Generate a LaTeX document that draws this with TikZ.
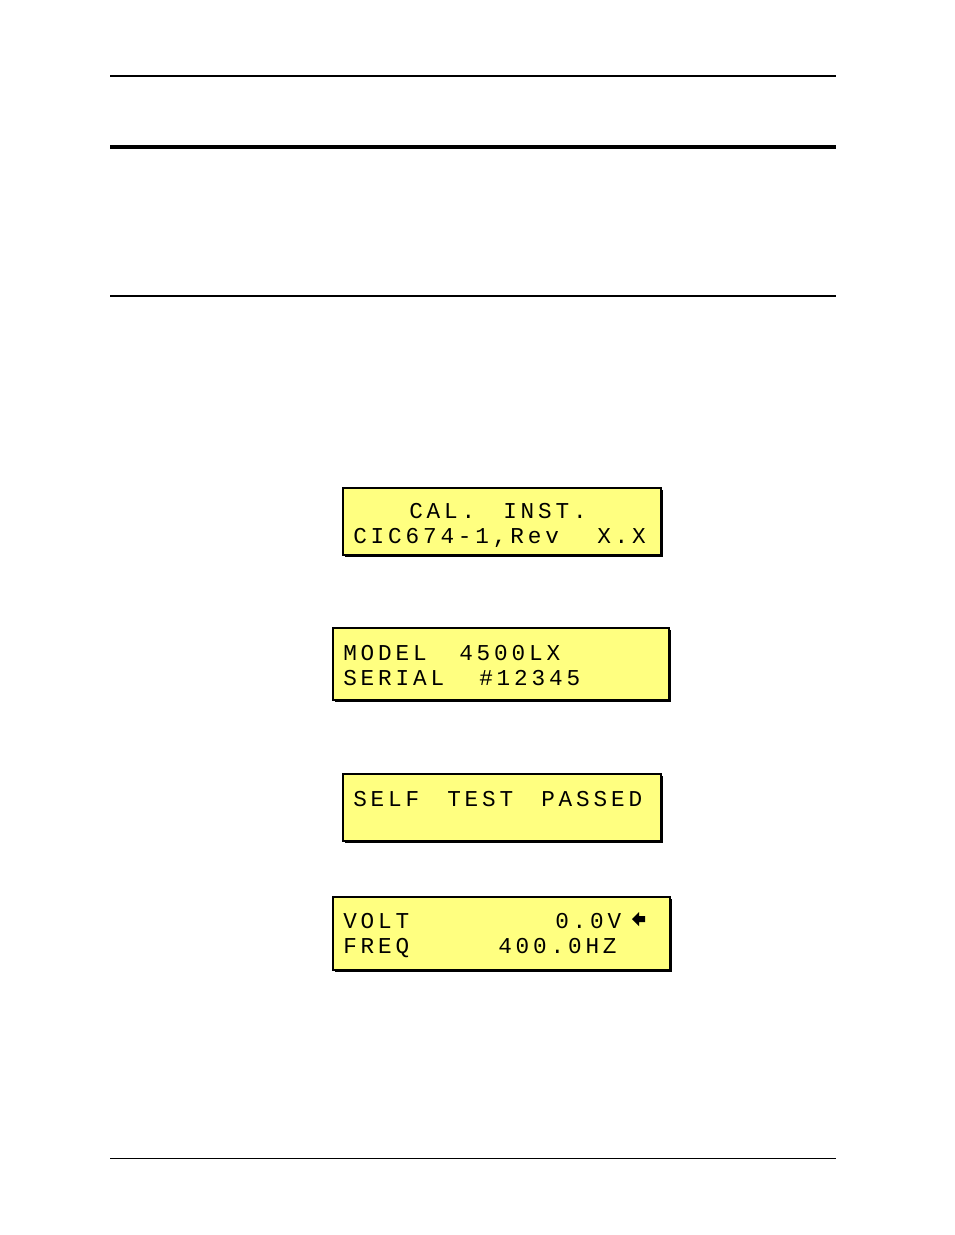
\documentclass[tikz,border=0pt]{standalone}
\usepackage{fontspec}
\newfontfamily\lcd[LetterSpace=17]{Liberation Mono}
\definecolor{lcdy}{HTML}{FFFF80}
\begin{document}
\begin{tikzpicture}[x=0.75pt,y=-0.75pt,
  lcdbox/.style={draw=black,line width=0.8pt,fill=lcdy},
  shadow/.style={fill=black},
  txt/.style={anchor=base west,inner sep=0pt,font=\lcd\fontsize{17}{17}\selectfont}]
\useasboundingbox (0,0) rectangle (954,1235);
\fill[white] (0,0) rectangle (954,1235);
\draw[line width=2.2pt] (110,76) -- (836,76);
\draw[line width=3pt] (110,147) -- (836,147);
\draw[line width=1.1pt] (110,296) -- (836,296);
\draw[line width=0.7pt] (110,1158) -- (836,1158);
% boxes
\foreach \a/\b/\c/\d/\n in {343/488/661/555/b1,333/628/669/700/b2,343/774/661/841/b3,333/897/670/970/b4}{
  \fill[shadow] (\a+2,\b+2) rectangle (\c+2,\d+2);
  \draw[lcdbox] (\a,\b) rectangle (\c,\d);
  \coordinate (\n) at (\a,\b);
}
\node[txt] (t1) at (409,518) {CAL.};
\node[txt] (t2) at (503,518) {INST.};
\node[txt] (t3) at (353,543) {CIC674-1,Rev};
\node[txt] (t4) at (597,543) {X.X};
\node[txt] (t5) at (343,660) {MODEL};
\node[txt] (t6) at (459,660) {4500LX};
\node[txt] (t7) at (343,685) {SERIAL};
\node[txt] (t8) at (479,685) {\#12345};
\node[txt] (t9) at (353,806) {SELF};
\node[txt] (t10) at (447,806) {TEST};
\node[txt] (t11) at (541,806) {PASSED};
\node[txt] (t12) at (343,928) {VOLT};
\node[txt] (t13) at (555,928) {0.0V};
\node[txt] (t14) at (343,953) {FREQ};
\node[txt] (t15) at (498,953) {400.0HZ};
\fill (632,919) -- (639,912) -- (639,916) -- (645,916) -- (645,922) -- (639,922) -- (639,926) -- cycle;
\end{tikzpicture}
\end{document}
